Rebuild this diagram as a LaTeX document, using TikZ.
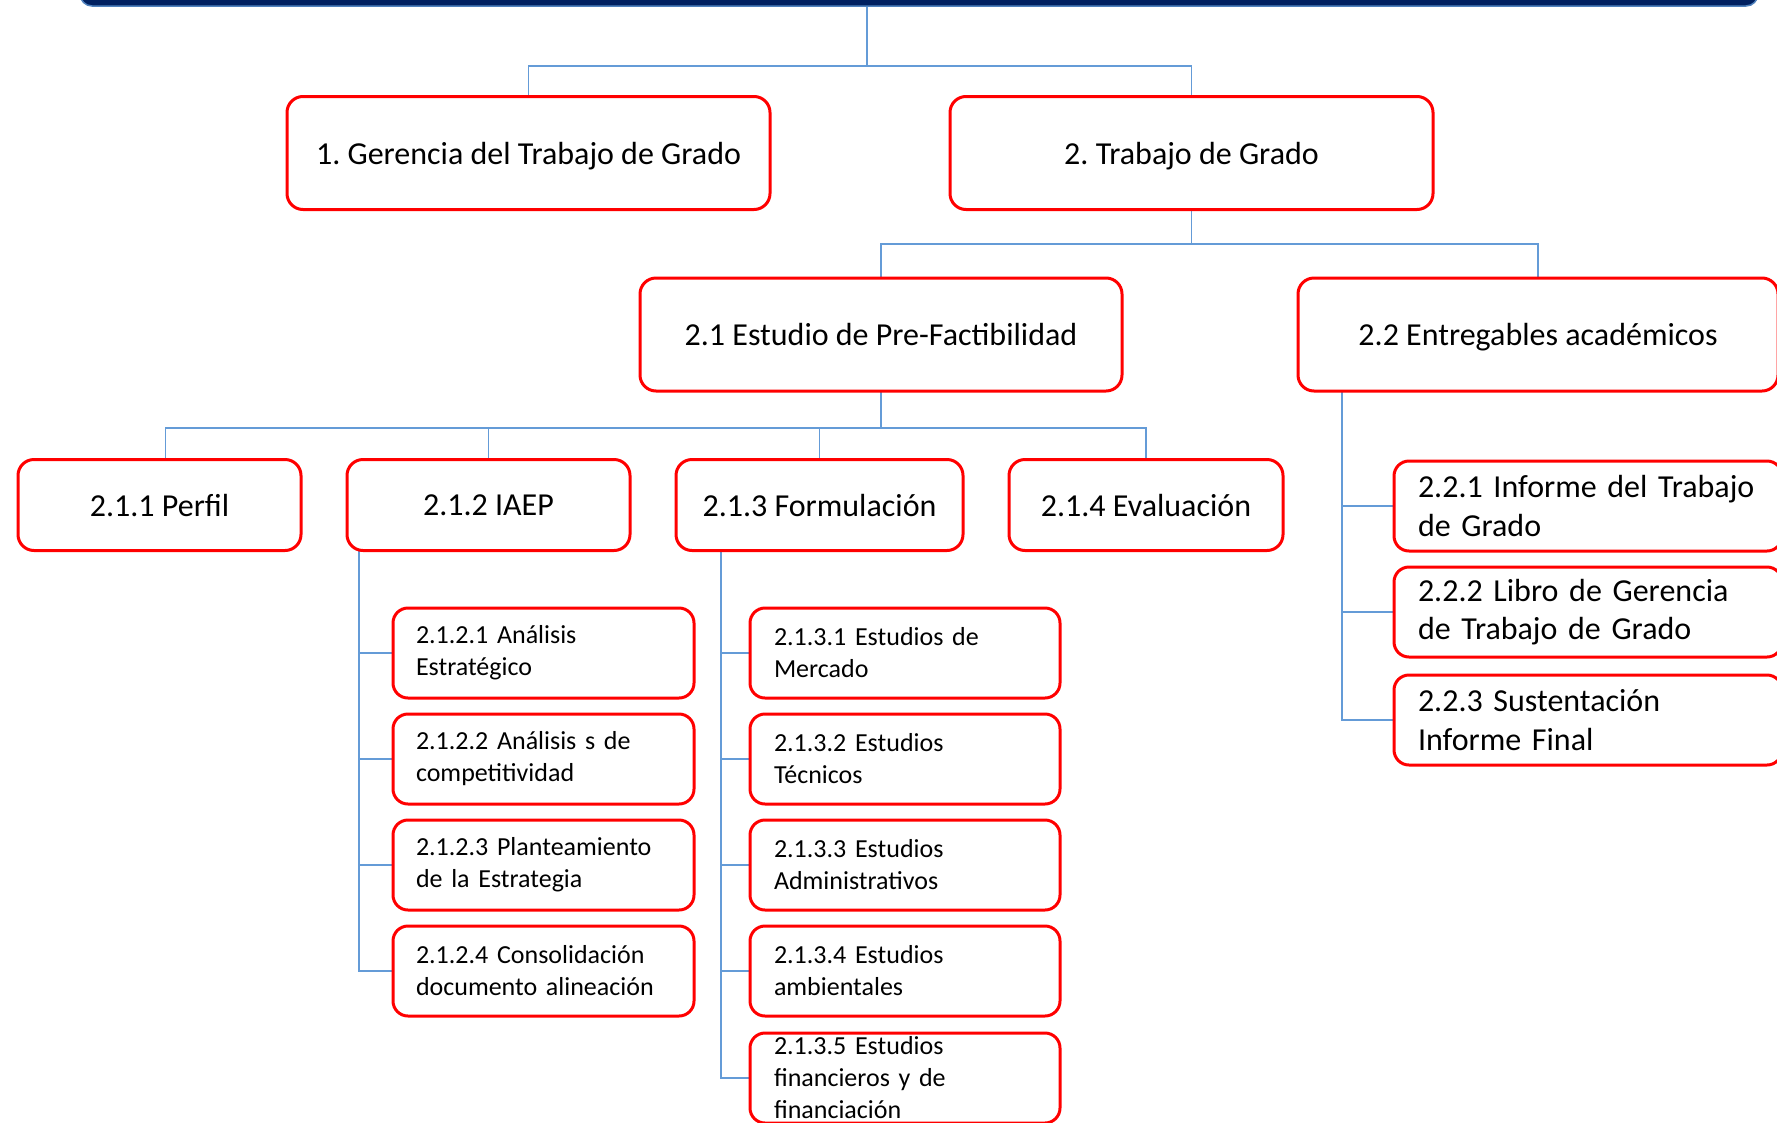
\documentclass[tikz,border=0pt]{standalone}
\usepackage{fontspec}
\setmainfont{Carlito}
\frenchspacing
\usetikzlibrary{positioning,backgrounds}
\definecolor{barblue}{RGB}{0,32,96}
\definecolor{baredge}{RGB}{79,129,189}
\definecolor{linkblue}{RGB}{100,155,215}
\definecolor{boxred}{RGB}{255,0,0}

\begin{document}
\begin{tikzpicture}[
  x=1pt, y=-1pt,
  wbox/.style={draw=boxred, line width=3pt, rounded corners=16pt, fill=white,
               minimum height=113pt, inner sep=0pt, outer sep=0pt, align=center,
               text depth=0pt, font=\fontsize{32}{38}\selectfont},
  midbox/.style={wbox, minimum height=91pt},
  subbox/.style={draw=boxred, line width=3pt, rounded corners=15pt, fill=white,
               minimum height=90pt, inner xsep=23pt, inner ysep=0pt, outer sep=0pt,
               align=left, font=\fontsize{26}{32}\selectfont},
  delbox/.style={subbox, inner xsep=24pt, font=\fontsize{32}{38.5}\selectfont},
  conn/.style={draw=linkblue, line width=1.5pt}
]
  \useasboundingbox (0,0) rectangle (1777,1122);

  % bar at the top, cut by the page
  \node[fill=barblue, draw=baredge, line width=1.5pt, rounded corners=12pt,
        minimum width=1678pt, minimum height=60pt] (top) at (919,-24) {};

  \node[wbox, minimum width=483pt] (g1) at (528.5,153)
    {1. Gerencia del Trabajo de Grado};
  \node[wbox, minimum width=483pt, right=180pt of g1] (g2)
    {2. Trabajo de Grado};

  \node[wbox, minimum width=482pt] (p21) at (881,334.5)
    {2.1 Estudio de Pre-Factibilidad};
  \node[wbox, minimum width=480pt, right=176pt of p21] (p22)
    {2.2 Entregables académicos};

  \node[midbox, minimum width=283pt] (p211) at (159.5,505) {2.1.1 Perfil};
  \node[midbox, minimum width=283pt, right=46pt of p211] (p212) {2.1.2 IAEP};
  \node[midbox, minimum width=287pt, right=46pt of p212] (p213) {2.1.3 Formulación};
  \node[midbox, minimum width=274pt, right=46pt of p213] (p214) {2.1.4 Evaluación};

  % 2.1.2
  \node[subbox, text width=255pt, anchor=north west] (a1) at (393,608)
    {2.1.2.1 Análisis\\Estratégico};
  \node[subbox, text width=255pt, below=16pt of a1] (a2)
    {2.1.2.2 Análisis s de\\competitividad};
  \node[subbox, text width=255pt, below=16pt of a2] (a3)
    {2.1.2.3 Planteamiento\\de la Estrategia};
  \node[subbox, text width=255pt, below=16pt of a3] (a4)
    {2.1.2.4 Consolidación\\documento alineación};

  % 2.1.3
  \node[subbox, inner xsep=24pt, text width=262pt, anchor=north west] (b1) at (750,608)
    {2.1.3.1 Estudios de\\Mercado};
  \node[subbox, inner xsep=24pt, text width=262pt, below=16pt of b1] (b2)
    {2.1.3.2 Estudios\\Técnicos};
  \node[subbox, inner xsep=24pt, text width=262pt, below=16pt of b2] (b3)
    {2.1.3.3 Estudios\\Administrativos};
  \node[subbox, inner xsep=24pt, text width=262pt, below=16pt of b3] (b4)
    {2.1.3.4 Estudios\\ambientales};
  \node[subbox, inner xsep=24pt, text width=262pt, below=17pt of b4] (b5)
    {2.1.3.5 Estudios\\financieros y de\\financiación};

  % 2.2
  \node[delbox, text width=340pt, anchor=north west] (d1) at (1394,461)
    {2.2.1 Informe del Trabajo\\de Grado};
  \node[delbox, text width=340pt, below=16pt of d1] (d2)
    {2.2.2 Libro de Gerencia\\de Trabajo de Grado};
  \node[delbox, text width=340pt, below=18pt of d2] (d3)
    {2.2.3 Sustentación\\Informe Final};

  \coordinate (bus0) at (867,66);
  \coordinate (bus1) at (g2.south |- 0,244);
  \coordinate (bus2) at (p21.south |- 0,428);

  \begin{scope}[on background layer]
    \draw[conn] (top.south -| bus0) -- (bus0);
    \draw[conn] (g1.north) |- (bus0) -| (g2.north);
    \draw[conn] (g2.south) -- (bus1);
    \draw[conn] (p21.north) |- (bus1) -| (p22.north);
    \draw[conn] (p21.south) -- (bus2);
    \draw[conn] ([xshift=6pt]p211.north) |- (bus2) -| (p214.north);
    \draw[conn] (p212.north) -- (p212.north |- bus2);
    \draw[conn] (p213.north) -- (p213.north |- bus2);
    \foreach \n in {a1,a2,a3,a4}
      \draw[conn] ([xshift=12pt]p212.south west) |- (\n.west);
    \foreach \n in {b1,b2,b3,b4,b5}
      \draw[conn] ([xshift=45pt]p213.south west) |- (\n.west);
    \foreach \n in {d1,d2,d3}
      \draw[conn] ([xshift=44pt]p22.south west) |- (\n.west);
  \end{scope}
\end{tikzpicture}
\end{document}
